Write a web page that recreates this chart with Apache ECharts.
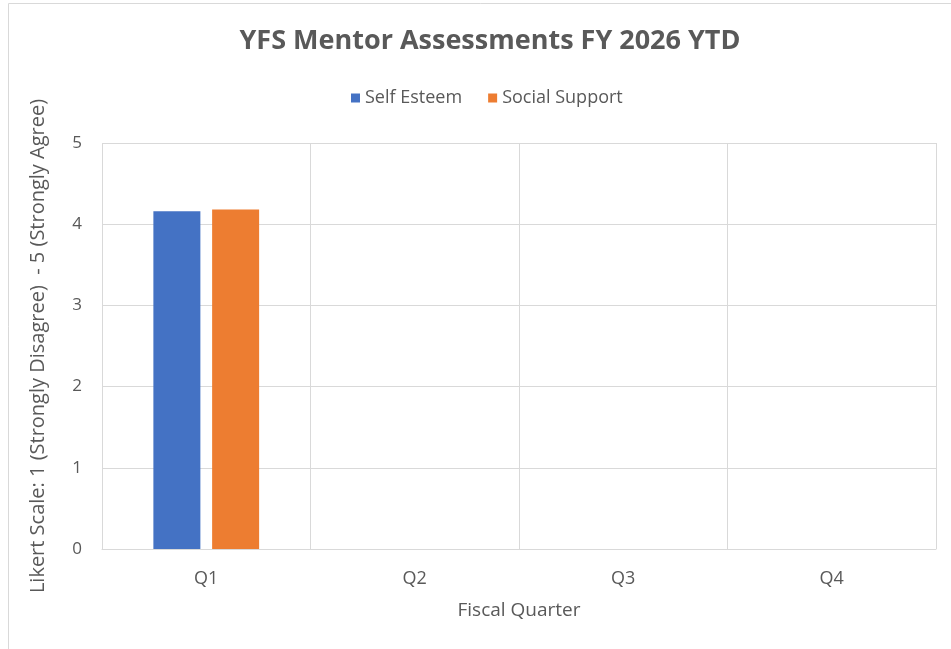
<!DOCTYPE html>
<html lang="en" style="height: 100%">
<head>
  <meta charset="utf-8">
</head>
<body style="height: 100%; margin: 0; background: #fff">
  <div id="container" style="width: 951px; height: 649px"></div>
  <script type="text/javascript" src="https://cdn.jsdelivr.net/npm/echarts@6/dist/echarts.min.js"></script>
  <script type="text/javascript">
    // quarters and Likert averages
    var quarters = ['Q1', 'Q2', 'Q3', 'Q4'];
    var selfEsteem = [4.16, null, null, null];
    var socialSupport = [4.18, null, null, null];
    var yTicks = [0, 1, 2, 3, 4, 5];

    var dom = document.getElementById('container');
    var myChart = echarts.init(dom, null, { renderer: 'canvas' });
    var grey = '#595959';
    var font = 'Open Sans';

    var option = {
      animation: false,
      color: ['#4472c4', '#ed7d31'],
      title: {
        text: 'YFS Mentor Assessments FY 2026 YTD',
        left: 485,
        textAlign: 'center',
        top: 23,
        textStyle: { color: grey, fontFamily: font, fontWeight: 'bold', fontSize: 27 }
      },
      legend: {
        top: 84,
        left: 346,
        itemWidth: 9,
        itemHeight: 9,
        itemGap: 26,
        icon: 'rect',
        textStyle: { color: grey, fontFamily: font, fontSize: 18 },
        data: ['Self Esteem', 'Social Support']
      },
      graphic: [{
        type: 'rect',
        shape: { x: 8.5, y: 3.5, width: 980, height: 700 },
        style: { fill: 'none', stroke: '#d9d9d9', lineWidth: 1 },
        silent: true
      }],
      grid: { left: 102, top: 143, right: 15, bottom: 100 },
      xAxis: {
        type: 'category',
        data: quarters,
        name: 'Fiscal Quarter',
        nameLocation: 'middle',
        nameGap: 52,
        nameTextStyle: { color: grey, fontFamily: font, fontSize: 19 },
        axisLine: { lineStyle: { color: '#d9d9d9' } },
        axisTick: { show: false },
        axisLabel: { color: grey, fontFamily: font, fontSize: 18, margin: 21 },
        splitLine: { show: true, interval: 0, lineStyle: { color: '#d9d9d9' } }
      },
      yAxis: {
        type: 'value',
        min: yTicks[0],
        max: yTicks[yTicks.length - 1],
        interval: 1,
        name: 'Likert Scale: 1 (Strongly Disagree)  - 5 (Strongly Agree)',
        nameLocation: 'middle',
        nameGap: 54,
        nameTextStyle: { color: grey, fontFamily: font, fontSize: 20 },
        axisLine: { show: false },
        axisTick: { show: false },
        axisLabel: { color: grey, fontFamily: font, fontSize: 17, margin: 20 },
        splitLine: { lineStyle: { color: '#d9d9d9' } }
      },
      series: [
        { name: 'Self Esteem', type: 'bar', data: selfEsteem, barWidth: 47, barGap: '25%' },
        { name: 'Social Support', type: 'bar', data: socialSupport, barWidth: 47, barGap: '25%' }
      ]
    };

    myChart.setOption(option);
    window.addEventListener('resize', myChart.resize);
  </script>
</body>
</html>
